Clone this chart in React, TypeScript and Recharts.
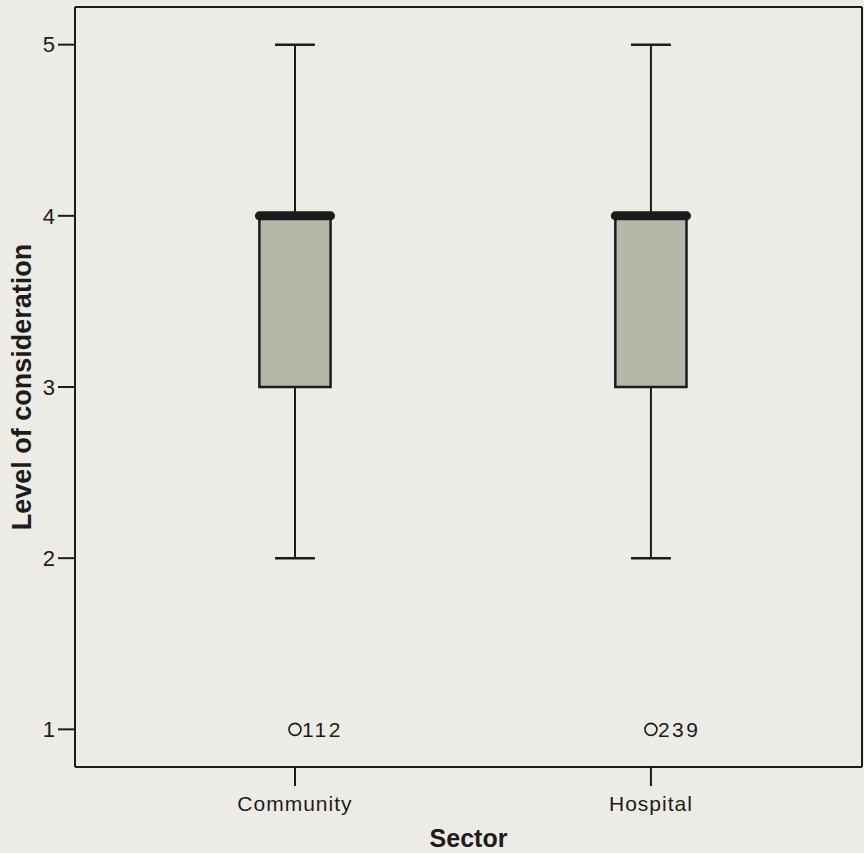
import React from 'react';
import {
  ComposedChart,
  XAxis,
  YAxis,
  ReferenceArea,
  ReferenceLine,
  Scatter,
  Label,
} from 'recharts';

const categories = ['Community', 'Hospital'];
const minValues = [2, 2];
const q1Values = [3, 3];
const medianValues = [4, 4];
const q3Values = [4, 4];
const maxValues = [5, 5];
const outlierValues = [1, 1];
const outlierLabels = ['112', '239'];
const yTicks = [1, 2, 3, 4, 5];

const X_DOMAIN: [number, number] = [0.382, 2.593];
const Y_DOMAIN: [number, number] = [0.78, 5.22];
const BOX_HALF = 0.1;
const MEDIAN_HALF = 0.1;
const CAP_HALF = 0.056;

const FONT = '"Liberation Sans", Arial, Helvetica, sans-serif';
const INK = '#1c1c1c';
const BG = '#ecebe5';
const BOX_FILL = '#b5b8a9';

const outlierData = categories.map((c, i) => ({
  x: i + 1,
  y: outlierValues[i],
  label: outlierLabels[i],
}));

const OutlierShape = (props: any) => {
  const { cx, cy, payload } = props;
  if (cx == null || cy == null) return null;
  return (
    <g>
      <circle cx={cx} cy={cy} r={6} fill="none" stroke={INK} strokeWidth={1.6} />
      <text
        x={cx + 7}
        y={cy}
        dy={7.5}
        fontSize={21}
        letterSpacing={2.5}
        fontFamily={FONT}
        fill={INK}
      >
        {payload.label}
      </text>
    </g>
  );
};

export default function App() {
  return (
    <div
      style={{
        position: 'absolute',
        left: 0,
        top: 0,
        width: 864,
        height: 853,
        background: BG,
      }}
    >
      <ComposedChart
        width={864}
        height={853}
        margin={{ top: 7, right: 2, bottom: 0, left: 0 }}
      >
        <XAxis
          xAxisId="main"
          type="number"
          dataKey="x"
          domain={X_DOMAIN}
          allowDataOverflow
          ticks={[1, 2]}
          tickFormatter={(v: number) => categories[Math.round(v) - 1] ?? ''}
          height={86}
          tickSize={19}
          tickMargin={10}
          axisLine={{ stroke: INK, strokeWidth: 2 }}
          tickLine={{ stroke: INK, strokeWidth: 2 }}
          tick={{ fontSize: 21, fill: INK, fontFamily: FONT, letterSpacing: 1 }}
        >
          <Label
            value="Sector"
            position="insideBottom"
            offset={6}
            style={{ fontSize: 25, fontWeight: 'bold', fill: INK, fontFamily: FONT }}
          />
        </XAxis>
        <YAxis
          yAxisId="main"
          type="number"
          domain={Y_DOMAIN}
          allowDataOverflow
          ticks={yTicks}
          width={75}
          tickSize={17}
          tickMargin={3}
          axisLine={{ stroke: INK, strokeWidth: 2 }}
          tickLine={{ stroke: INK, strokeWidth: 2 }}
          tick={{ fontSize: 22, fill: INK, fontFamily: FONT }}
        >
          <Label
            content={(p: any) => {
              const vb = p.viewBox || {};
              const cx = 22;
              const cy = (vb.y ?? 0) + (vb.height ?? 0) / 2;
              return (
                <text
                  x={cx}
                  y={cy}
                  transform={`rotate(-90 ${cx} ${cy})`}
                  textAnchor="middle"
                  dominantBaseline="central"
                  fontSize={27}
                  fontWeight="bold"
                  fontFamily={FONT}
                  fill={INK}
                >
                  Level of consideration
                </text>
              );
            }}
          />
        </YAxis>

        {/* frame: top and right borders */}
        <ReferenceLine
          xAxisId="main"
          yAxisId="main"
          y={Y_DOMAIN[1]}
          stroke={INK}
          strokeWidth={2}
        />
        <ReferenceLine
          xAxisId="main"
          yAxisId="main"
          x={X_DOMAIN[1]}
          stroke={INK}
          strokeWidth={2}
        />

        {categories.map((c, i) => {
          const x = i + 1;
          return (
            <React.Fragment key={c}>
              <ReferenceLine
                xAxisId="main"
                yAxisId="main"
                segment={[
                  { x, y: minValues[i] },
                  { x, y: q1Values[i] },
                ]}
                stroke={INK}
                strokeWidth={2}
              />
              <ReferenceLine
                xAxisId="main"
                yAxisId="main"
                segment={[
                  { x, y: q3Values[i] },
                  { x, y: maxValues[i] },
                ]}
                stroke={INK}
                strokeWidth={2}
              />
              <ReferenceLine
                xAxisId="main"
                yAxisId="main"
                segment={[
                  { x: x - CAP_HALF, y: minValues[i] },
                  { x: x + CAP_HALF, y: minValues[i] },
                ]}
                stroke={INK}
                strokeWidth={2.5}
              />
              <ReferenceLine
                xAxisId="main"
                yAxisId="main"
                segment={[
                  { x: x - CAP_HALF, y: maxValues[i] },
                  { x: x + CAP_HALF, y: maxValues[i] },
                ]}
                stroke={INK}
                strokeWidth={2.5}
              />
              <ReferenceArea
                xAxisId="main"
                yAxisId="main"
                x1={x - BOX_HALF}
                x2={x + BOX_HALF}
                y1={q1Values[i]}
                y2={q3Values[i]}
                fill={BOX_FILL}
                fillOpacity={1}
                stroke={INK}
                strokeWidth={2.5}
              />
              <ReferenceLine
                xAxisId="main"
                yAxisId="main"
                segment={[
                  { x: x - MEDIAN_HALF, y: medianValues[i] },
                  { x: x + MEDIAN_HALF, y: medianValues[i] },
                ]}
                stroke={INK}
                strokeWidth={9}
                strokeLinecap="round"
                zIndex={1000}
              />
            </React.Fragment>
          );
        })}

        <Scatter
          xAxisId="main"
          yAxisId="main"
          data={outlierData}
          dataKey="y"
          shape={<OutlierShape />}
          isAnimationActive={false}
        />
      </ComposedChart>
    </div>
  );
}
